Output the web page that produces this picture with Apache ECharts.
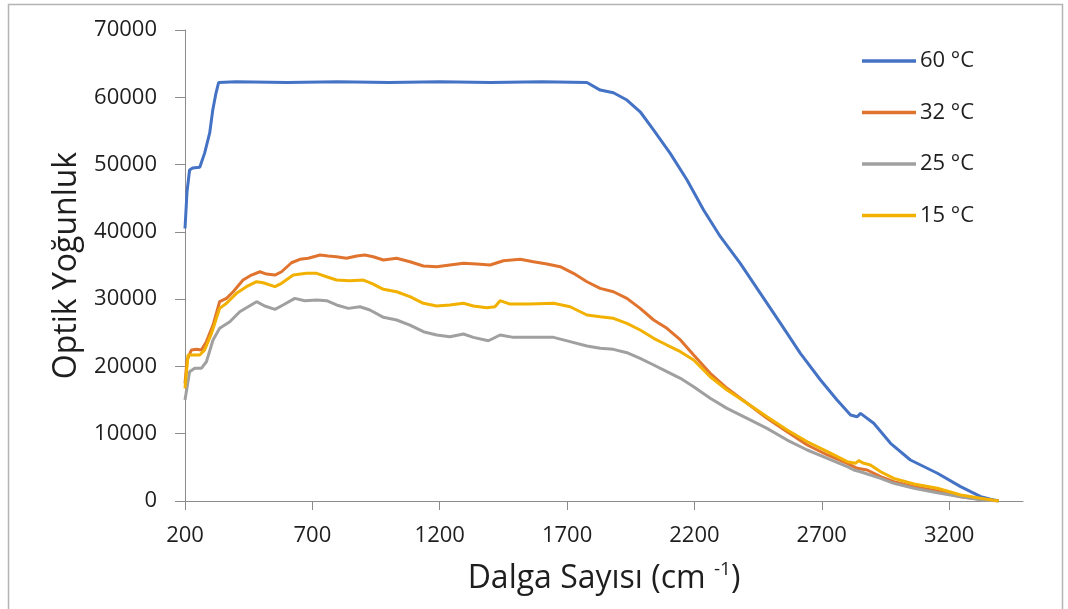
<!DOCTYPE html>
<html>
<head>
<meta charset="utf-8">
<script src="https://cdn.jsdelivr.net/npm/echarts@6.0.0/dist/echarts.min.js"></script>
<style>
html,body{margin:0;padding:0;background:#fff;}
#chart{width:1068px;height:609px;}
</style>
</head>
<body>
<div id="chart"></div>
<script>
// ---- data ----
const seriesNames = ['60 °C', '32 °C', '25 °C', '15 °C'];
const xTicks = [200, 700, 1200, 1700, 2200, 2700, 3200];
const yTicks = [0, 10000, 20000, 30000, 40000, 50000, 60000, 70000];

const s60 = [[200,40500],[208,46000],[218,49200],[230,49500],[258,49600],[277,51700],[297,54700],[309,58100],[321,60500],[332,62200],[400,62300],[600,62200],[800,62300],[1000,62200],[1200,62300],[1400,62200],[1600,62300],[1778,62200],[1830,61070],[1882,60670],[1935,59590],[1987,57850],[2040,55130],[2105,51670],[2171,47700],[2236,43240],[2302,39280],[2380,35320],[2459,30860],[2538,26400],[2616,21950],[2695,17980],[2760,15010],[2813,12780],[2839,12530],[2852,13030],[2904,11550],[2970,8570],[3048,6090],[3154,4120],[3245,2130],[3324,640],[3363,250],[3395,0]];

const s32 = [[200,17490],[208,20950],[225,22440],[245,22540],[264,22440],[284,23680],[310,26150],[336,29620],[363,30120],[389,31100],[428,32840],[461,33580],[494,34070],[520,33730],[553,33580],[579,34070],[618,35410],[651,35920],[684,36070],[730,36560],[763,36410],[795,36300],[834,36070],[874,36410],[906,36560],[939,36300],[979,35810],[1031,36070],[1083,35560],[1136,34920],[1188,34820],[1240,35070],[1293,35320],[1345,35220],[1398,35070],[1450,35710],[1516,35920],[1568,35560],[1621,35220],[1673,34820],[1725,33840],[1778,32590],[1830,31600],[1882,31100],[1935,30120],[1987,28630],[2040,26900],[2092,25660],[2145,23930],[2197,21700],[2262,18980],[2328,16750],[2407,14520],[2485,12290],[2564,10300],[2643,8320],[2722,6840],[2800,5600],[2839,4860],[2878,4610],[2931,3610],[2983,2870],[3062,2130],[3154,1490],[3245,640],[3324,250],[3395,0]];

const s25 = [[200,15010],[218,19220],[238,19720],[264,19720],[284,20700],[310,23930],[336,25660],[376,26640],[415,28130],[448,28870],[481,29620],[513,28980],[553,28490],[585,29130],[631,30120],[670,29770],[717,29870],[756,29770],[795,29130],[841,28630],[887,28870],[926,28380],[979,27300],[1031,26900],[1083,26150],[1136,25160],[1188,24670],[1240,24420],[1293,24820],[1332,24320],[1391,23820],[1437,24670],[1489,24320],[1555,24320],[1647,24320],[1712,23680],[1778,23030],[1830,22690],[1882,22540],[1935,22040],[1987,21200],[2040,20210],[2092,19220],[2145,18230],[2197,16990],[2262,15260],[2328,13770],[2407,12290],[2485,10800],[2564,9060],[2643,7580],[2722,6340],[2800,5100],[2826,4610],[2852,4350],[2931,3370],[2983,2630],[3062,1890],[3154,1230],[3245,640],[3324,200],[3395,0]];

const s15 = [[200,16750],[212,21700],[232,21700],[258,21700],[277,22440],[304,24920],[336,28630],[363,29380],[402,30860],[441,31850],[481,32590],[507,32440],[553,31850],[579,32350],[625,33580],[677,33840],[717,33840],[756,33330],[795,32840],[847,32740],[900,32840],[933,32350],[979,31460],[1031,31100],[1083,30360],[1136,29380],[1188,28980],[1240,29130],[1293,29380],[1332,28980],[1385,28730],[1417,28870],[1437,29770],[1476,29270],[1555,29270],[1647,29380],[1712,28870],[1778,27640],[1830,27390],[1882,27150],[1935,26400],[1987,25410],[2040,24180],[2092,23180],[2145,22190],[2197,20950],[2262,18470],[2328,16490],[2407,14520],[2485,12530],[2564,10550],[2643,8810],[2722,7330],[2800,5840],[2832,5600],[2845,5990],[2865,5600],[2891,5350],[2931,4350],[2983,3370],[3062,2530],[3154,1890],[3245,890],[3324,400],[3395,0]];

const seriesData = [s60, s32, s25, s15];
const colors = ['#4472C4', '#E0742F', '#A0A0A0', '#F2B100'];

// ---- chart ----
const FONT = 'Open Sans';
const TXT = '#1e1e1e';
const chart = echarts.init(document.getElementById('chart'), null, {renderer: 'canvas'});
chart.setOption({
  animation: false,
  backgroundColor: '#ffffff',
  textStyle: {fontFamily: FONT},
  graphic: [{
    type: 'rect',
    shape: {x: 8.5, y: 4.5, width: 1054, height: 610},
    style: {fill: 'none', stroke: '#b4b4b4', lineWidth: 1.5},
    silent: true, z: -1
  }],
  grid: {left: 185, right: 45, top: 30, bottom: 108, containLabel: false},
  legend: {
    orient: 'vertical',
    left: 862,
    top: 50,
    padding: 0,
    icon: 'rect',
    itemWidth: 54,
    itemHeight: 3.5,
    itemGap: 29.5,
    data: seriesNames,
    textStyle: {fontFamily: FONT, fontSize: 22, color: TXT, lineHeight: 22, padding: [0,0,0,-1]}
  },
  xAxis: {
    type: 'value',
    min: 200,
    max: 3490,
    name: '{t|Dalga Sayısı (cm }{s|-1}{t|)}',
    nameLocation: 'middle',
    nameGap: 59,
    nameTextStyle: {
      rich: {
        t: {fontFamily: FONT, fontSize: 32, color: TXT, lineHeight: 38},
        s: {fontFamily: FONT, fontSize: 19, color: TXT, verticalAlign: 'top', lineHeight: 22}
      }
    },
    axisLine: {show: true, lineStyle: {color: '#8c8c8c', width: 1}},
    axisTick: {show: true, length: 9, customValues: xTicks, lineStyle: {color: '#8c8c8c'}},
    axisLabel: {customValues: xTicks, margin: 24, fontFamily: FONT, fontSize: 22, color: TXT,
      formatter: v => String(v)},
    splitLine: {show: false}
  },
  yAxis: {
    type: 'value',
    min: 0,
    max: 70000,
    interval: 10000,
    name: 'Optik Yoğunluk',
    nameLocation: 'middle',
    nameGap: 102,
    nameRotate: 90,
    nameTextStyle: {fontFamily: FONT, fontSize: 32, color: TXT},
    axisLine: {show: true, lineStyle: {color: '#8c8c8c', width: 1}},
    axisTick: {show: true, length: 10, lineStyle: {color: '#8c8c8c'}},
    axisLabel: {margin: 28, fontFamily: FONT, fontSize: 22, color: TXT,
      formatter: v => String(v)},
    splitLine: {show: false}
  },
  series: seriesData.map((d, i) => ({
    name: seriesNames[i],
    type: 'line',
    data: d,
    symbol: 'none',
    showSymbol: false,
    smooth: false,
    color: colors[i],
    lineStyle: {width: 3, color: colors[i]},
    z: 2 + i
  }))
});
</script>
</body>
</html>
